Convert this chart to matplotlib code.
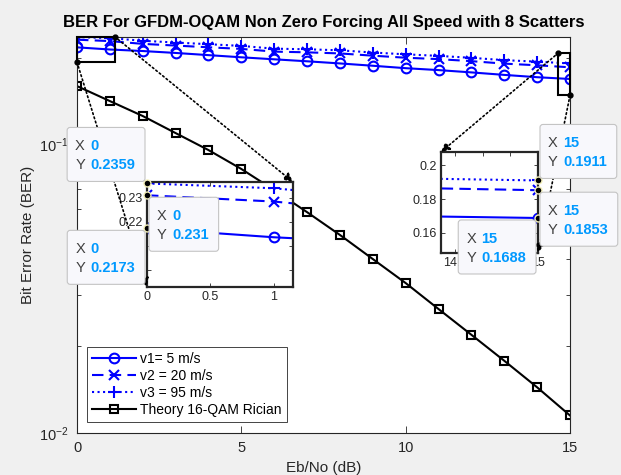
import matplotlib
matplotlib.use('Agg')
import matplotlib.pyplot as plt
import matplotlib.transforms as mtransforms
from matplotlib.patches import Rectangle, FancyBboxPatch, ConnectionPatch
from matplotlib.ticker import FixedFormatter, NullFormatter
import numpy as np


plt.rcParams['font.family'] = ['Liberation Sans', 'DejaVu Sans']

ebno = np.arange(0, 16)

ber_v1 = [0.2173, 0.2136, 0.2110, 0.2078, 0.2042, 0.2007, 0.1975, 0.1944,
          0.1911, 0.1876, 0.1840, 0.1812, 0.1779, 0.1744, 0.1712, 0.1688]
ber_v2 = [0.2310, 0.2284, 0.2234, 0.2204, 0.2174, 0.2146, 0.2100, 0.2088,
          0.2070, 0.2033, 0.2000, 0.1978, 0.1946, 0.1908, 0.1883, 0.1853]
ber_v3 = [0.2359, 0.2339, 0.2290, 0.2258, 0.2228, 0.2198, 0.2150, 0.2140,
          0.2122, 0.2085, 0.2055, 0.2030, 0.1998, 0.1962, 0.1938, 0.1911]
ber_theory = [0.1595, 0.1415, 0.1256, 0.1096, 0.0957, 0.0823, 0.0695, 0.0583,
              0.0486, 0.0401, 0.0331, 0.0269, 0.0219, 0.0178, 0.0144, 0.0115]

labels = ['v1= 5 m/s', 'v2 = 20 m/s', 'v3 = 95 m/s', 'Theory 16-QAM Rician']

AXC = '#262626'
W, H = 621, 475


def draw_curves(a):
    a.plot(ebno, ber_v1, '-o', color='b', lw=1.5, ms=7, mfc='none',
           mew=1.5, label=labels[0])
    a.plot(ebno, ber_v2, '--x', color='b', lw=1.5, ms=6.5, mew=1.5,
           dashes=(5.5, 3), label=labels[1])
    a.plot(ebno, ber_v3, ':+', color='b', lw=1.5, ms=8, mew=1.5,
           label=labels[2])
    a.plot(ebno, ber_theory, '-s', color='k', lw=1.5, ms=6,
           mfc='none', mew=1.5, label=labels[3])


def px_axes(left, top, right, bottom):
    '''axes rect from pixel edges (y measured from the top)'''
    return [left / W, (H - bottom) / H, (right - left) / W, (bottom - top) / H]


fig = plt.figure(figsize=(W / 100, H / 100), dpi=100, facecolor='#f0f0f0')
ax = fig.add_axes(px_axes(77, 37, 570, 433))
draw_curves(ax)
ax.set_yscale('log')
ax.set_xlim(0, 15)
ax.set_ylim(0.01, 0.236)
ax.set_xticks([0, 5, 10, 15])
ax.yaxis.set_minor_formatter(NullFormatter())
ax.tick_params(which='both', direction='in', top=True, right=True,
               colors=AXC, labelsize=10.5, width=0.6)
ax.tick_params(which='major', length=5, pad=6)
ax.tick_params(which='minor', length=3)
for s in ax.spines.values():
    s.set_color(AXC)
    s.set_linewidth(0.8)
ax.set_xlabel('Eb/No (dB)', fontsize=11, color=AXC, labelpad=4)
ax.set_ylabel('Bit Error Rate (BER)', fontsize=11, color=AXC, labelpad=3)
ax.set_title('BER For GFDM-OQAM Non Zero Forcing All Speed with 8 Scatters',
             fontsize=12, fontweight='bold', pad=7)

leg = ax.legend(loc='lower left', bbox_to_anchor=(0.02, 0.028), borderaxespad=0,
                fontsize=10, handlelength=3.2, handletextpad=0.3,
                labelspacing=0.22, borderpad=0.35, numpoints=1,
                fancybox=False, framealpha=1, edgecolor=AXC)
leg.get_frame().set_linewidth(0.6)

# zoomed windows: limits, pixel box on the figure, ticks and tick labels
zooms = [((0, 1.15, 0.193, 0.2365), (147, 182, 293, 287),
          [0, 0.5, 1], ['0', '0.5', '1'],
          [0.20, 0.21, 0.22, 0.23], ['', '', '0.22', '0.23']),
         ((14.65, 15, 0.148, 0.208), (441, 152, 538, 253),
          [14.7, 14.8, 14.9, 15], ['14.7', '', '', '15'],
          [0.16, 0.18, 0.2], ['0.16', '0.18', '0.2'])]

insets = []
for (x0, x1, y0, y1), pos, xt, xl, yt, yl in zooms:
    ax.add_patch(Rectangle((x0, y0), x1 - x0, y1 - y0, fill=False, ec='k',
                           lw=1.5, clip_on=False, zorder=5))
    ins = fig.add_axes(px_axes(*pos))
    draw_curves(ins)
    ins.set_xlim(x0, x1)
    ins.set_ylim(y0, y1)
    ins.set_xticks(xt)
    ins.set_yticks(yt)
    ins.xaxis.set_major_formatter(FixedFormatter(xl))
    ins.yaxis.set_major_formatter(FixedFormatter(yl))
    ins.tick_params(direction='in', top=True, right=True, colors=AXC,
                    labelsize=9, length=3, width=0.6, pad=3)
    for s in ins.spines.values():
        s.set_color(AXC)
        s.set_linewidth(1.6)
    insets.append(ins)

# dotted arrows from the zoom boxes to the insets
links = [((1.15, 0.2365), (1, 1), insets[0]),
         ((0, 0.193), (0, 0), insets[0]),
         ((14.65, 0.208), (0, 1), insets[1]),
         ((15, 0.148), (1, 0), insets[1])]
for xy, corner, ins in links:
    con = ConnectionPatch(xyA=xy, coordsA=ax.transData, xyB=corner,
                          coordsB=ins.transAxes, arrowstyle='-|>',
                          linestyle=':', color='k', lw=1.2, mutation_scale=13,
                          shrinkA=0, shrinkB=0, zorder=4)
    fig.add_artist(con)
    ax.plot(*xy, 'o', color='k', ms=3.5, clip_on=False, zorder=6)

# data tips
renderer = fig.canvas.get_renderer()
ident = mtransforms.IdentityTransform()
TIPC = '#0099ff'


def datatip(ins, series, i, sx, sy):
    x, y = ebno[i], series[i]
    ins.plot(x, y, 'o', ms=5, mfc='k', mec='#f2eeb8', mew=1, clip_on=False,
             zorder=10)
    px, py = ins.transData.transform((x, y))
    xs, ys = '%g' % x, '%.4g' % y
    kw = dict(fontsize=10.5, fontweight='bold', color=TIPC, transform=ident,
              zorder=9, va='baseline', ha='left')
    t1 = fig.text(0, 0, xs, **kw)
    t2 = fig.text(0, 0, ys, **kw)
    tw = max(t1.get_window_extent(renderer).width,
             t2.get_window_extent(renderer).width)
    w, h = 24 + tw + 9, 54
    left = px + 2 if sx > 0 else px - 2 - w
    bottom = py + 2 if sy > 0 else py - 2 - h
    top = bottom + h
    fig.add_artist(FancyBboxPatch((left, bottom), w, h,
                                  boxstyle='round,pad=0,rounding_size=3',
                                  fc='#f8f8fc', ec='#c4c4c4', lw=0.8,
                                  transform=ident, zorder=8))
    t1.set_position((left + 23, top - 23))
    t2.set_position((left + 23, top - 42))
    fig.text(left + 8, top - 23, 'X', fontsize=10.5, color='#404040',
             transform=ident, zorder=9, va='baseline', ha='left')
    fig.text(left + 8, top - 42, 'Y', fontsize=10.5, color='#404040',
             transform=ident, zorder=9, va='baseline', ha='left')


datatip(insets[0], ber_v3, 0, -1, 1)
datatip(insets[0], ber_v2, 0, 1, -1)
datatip(insets[0], ber_v1, 0, -1, -1)
datatip(insets[1], ber_v3, 15, 1, 1)
datatip(insets[1], ber_v2, 15, 1, -1)
datatip(insets[1], ber_v1, 15, -1, -1)

fig.savefig('out.png', dpi=100, facecolor=fig.get_facecolor())
